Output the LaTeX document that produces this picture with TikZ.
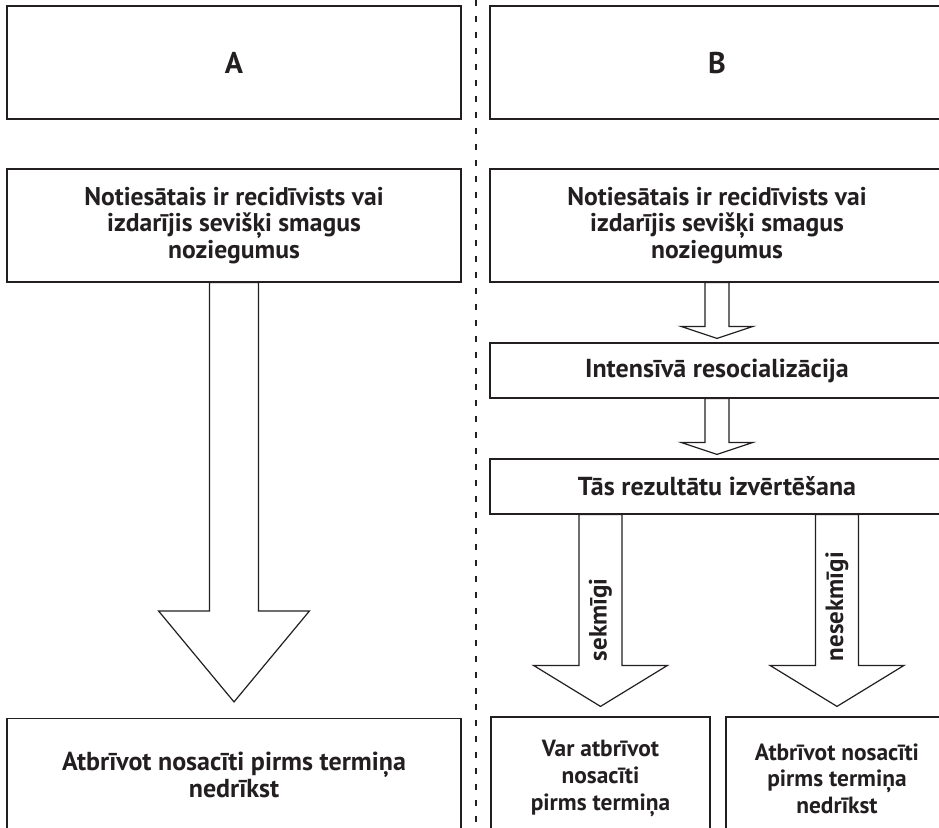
\documentclass[tikz,border=0pt]{standalone}
\usepackage{fontspec}
\setmainfont{PT Sans}
\usetikzlibrary{calc}

\definecolor{ink}{HTML}{231F20}

\tikzset{
  box/.style={draw=ink,line width=.6pt,text=ink,align=center,inner sep=0pt},
  wide/.style={minimum width=227pt},
  tall/.style={minimum height=56.5pt},
  flat/.style={minimum height=27.5pt},
  small/.style={minimum width=109.5pt,minimum height=61.5pt},
  txt/.style={font=\fontsize{12.8}{13.3}\selectfont\bfseries},
  head/.style={font=\fontsize{15}{17}\selectfont\bfseries},
  big/.style={font=\fontsize{13}{15}\selectfont\bfseries},
  mid/.style={font=\fontsize{13}{13.4}\selectfont\bfseries},
  tiny/.style={font=\fontsize{11.7}{13.3}\selectfont\bfseries},
  blockarrow/.style={draw=ink,line width=.6pt,fill=white,line join=miter},
  sep/.style={draw=ink,line width=.6pt,dash pattern=on 3pt off 5pt}
}

% #1 start, #2 tip, #3 shaft half width, #4 head half width, #5 head length
\newcommand{\blockarrow}[5]{%
  \draw[blockarrow] ($(#1)+(-#3,0)$) -- ($(#2)+(-#3,-#5)$) -- ($(#2)+(-#4,-#5)$) -- (#2)
    -- ($(#2)+(#4,-#5)$) -- ($(#2)+(#3,-#5)$) -- ($(#1)+(#3,0)$) -- cycle;}

\begin{document}
\begin{tikzpicture}[x=.5pt,y=-.5pt]

      \clip (0,0) rectangle (939,827);

      \draw[sep] (476,0) -- (476,827);

      \begin{scope}[every node/.style={box}]
        \node[wide,tall,head] (1) at (234,62.5)  {A};
        \node[wide,tall,head] (2) at (717,62.5)  {B};
        \node[wide,tall,txt] (3) at (234,225.5) {Notiesātais ir recidīvists vai\\izdarījis sevišķi smagus\\noziegumus};
        \node[wide,tall,txt] (4) at (717,225.5) {Notiesātais ir recidīvists vai\\izdarījis sevišķi smagus\\noziegumus};
        \node[wide,flat,big] (5) at (717,370.5) {Intensīvā resocializācija};
        \node[wide,flat,big] (6) at (717,486.5) {Tās rezultātu izvērtēšana};
        \node[wide,tall,mid] (7) at (234,775)   {Atbrīvot nosacīti pirms termiņa\\nedrīkst};
        \node[small,tiny]    (8) at (600.5,778.5) {Var atbrīvot\\nosacīti\\pirms termiņa};
        \node[small,tiny,minimum width=111pt] (9) at (837,778.5) {Atbrīvot nosacīti\\pirms termiņa\\nedrīkst};
      \end{scope}

      \coordinate (t1) at ($(7.north)+(0,-16)$);
      \coordinate (t2) at ($(5.north)+(0,-4)$);
      \coordinate (t3) at ($(6.north)+(0,-4)$);
      \coordinate (s4) at (6.south -| 8.north);
      \coordinate (t4) at ($(8.north)+(0,-10)$);
      \coordinate (s5) at (6.south -| 9.north);
      \coordinate (t5) at ($(9.north)+(0,-10)$);

      \blockarrow{3.south}{t1}{24.5}{75.5}{91}
      \blockarrow{4.south}{t2}{12}{36}{12}
      \blockarrow{5.south}{t3}{12}{36}{12}
      \blockarrow{s4}{t4}{21.5}{67}{41}
      \blockarrow{s5}{t5}{21.5}{67}{41}

      \begin{scope}[every node/.style={rotate=90,anchor=west,inner sep=0pt,text=ink,font=\fontsize{12.5}{14}\selectfont\bfseries}]
        \node (10) at ($(8.north)+(0,-55)$) {sekmīgi};
        \node (11) at ($(9.north)+(0,-55)$) {nesekmīgi};
      \end{scope}

    \end{tikzpicture}
\end{document}
